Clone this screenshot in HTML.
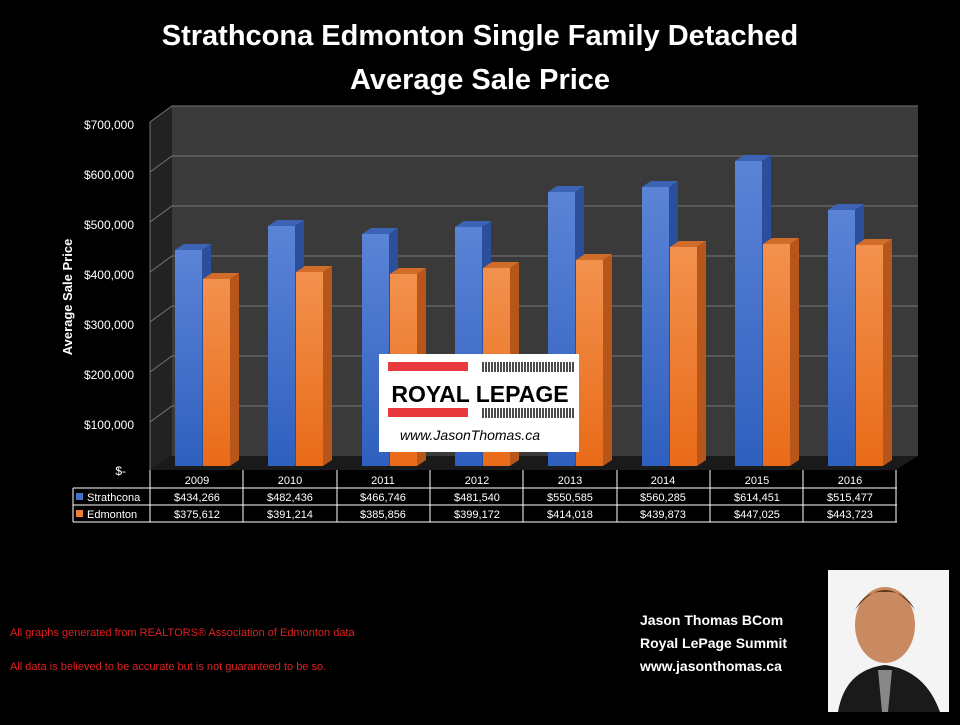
<!DOCTYPE html><html><head><style>body{margin:0;background:#000;width:960px;height:720px;overflow:hidden;font-family:"Liberation Sans",sans-serif}</style></head><body>
<svg width="960" height="720" xmlns="http://www.w3.org/2000/svg" font-family="Liberation Sans, sans-serif">
<defs>
<linearGradient id="b" x1="0" y1="0" x2="0" y2="1"><stop offset="0" stop-color="#5b84d6"/><stop offset="1" stop-color="#2f5fbf"/></linearGradient>
<linearGradient id="o" x1="0" y1="0" x2="0" y2="1"><stop offset="0" stop-color="#f2914e"/><stop offset="1" stop-color="#e96b18"/></linearGradient>
</defs>
<text x="480" y="45" fill="#fff" font-size="29" font-weight="bold" text-anchor="middle">Strathcona Edmonton Single Family Detached</text>
<text x="480" y="89" fill="#fff" font-size="29" font-weight="bold" text-anchor="middle">Average Sale Price</text>
<polygon points="150,122 172,106 172,456 150,470" fill="#222"/>
<rect x="172" y="106" width="746" height="350" fill="#3a3a3a"/>
<polygon points="150,470 172,456 918,456 896,470" fill="#1a1a1a"/>
<g stroke="#777" stroke-width="1" fill="none">
<polyline points="150,122 172,106 918,106"/><polyline points="150,172 172,156 918,156"/><polyline points="150,222 172,206 918,206"/><polyline points="150,272 172,256 918,256"/><polyline points="150,322 172,306 918,306"/><polyline points="150,372 172,356 918,356"/><polyline points="150,422 172,406 918,406"/>
<line x1="150" y1="122" x2="150" y2="470"/>
</g>
<g font-size="12" fill="#fff" text-anchor="end">
<text x="134" y="129">$700,000</text><text x="134" y="179">$600,000</text><text x="134" y="229">$500,000</text><text x="134" y="279">$400,000</text><text x="134" y="329">$300,000</text><text x="134" y="379">$200,000</text><text x="134" y="429">$100,000</text><text x="126" y="475">$-</text>
</g>
<text transform="translate(72,297) rotate(-90)" fill="#fff" font-size="13" font-weight="bold" text-anchor="middle">Average Sale Price</text>

<!-- bars -->
<g>
<!-- blue -->
<g transform="translate(175,0)"><polygon points="27,250 36,244 36,460 27,466" fill="#2c4f9c"/><polygon points="0,250 9,244 36,244 27,250" fill="#3d64b4"/><rect x="0" y="250" width="27" height="216" fill="url(#b)"/></g>
<g transform="translate(268,0)"><polygon points="27,226 36,220 36,460 27,466" fill="#2c4f9c"/><polygon points="0,226 9,220 36,220 27,226" fill="#3d64b4"/><rect x="0" y="226" width="27" height="240" fill="url(#b)"/></g>
<g transform="translate(362,0)"><polygon points="27,234 36,228 36,460 27,466" fill="#2c4f9c"/><polygon points="0,234 9,228 36,228 27,234" fill="#3d64b4"/><rect x="0" y="234" width="27" height="232" fill="url(#b)"/></g>
<g transform="translate(455,0)"><polygon points="27,227 36,221 36,460 27,466" fill="#2c4f9c"/><polygon points="0,227 9,221 36,221 27,227" fill="#3d64b4"/><rect x="0" y="227" width="27" height="239" fill="url(#b)"/></g>
<g transform="translate(548,0)"><polygon points="27,192 36,186 36,460 27,466" fill="#2c4f9c"/><polygon points="0,192 9,186 36,186 27,192" fill="#3d64b4"/><rect x="0" y="192" width="27" height="274" fill="url(#b)"/></g>
<g transform="translate(642,0)"><polygon points="27,187 36,181 36,460 27,466" fill="#2c4f9c"/><polygon points="0,187 9,181 36,181 27,187" fill="#3d64b4"/><rect x="0" y="187" width="27" height="279" fill="url(#b)"/></g>
<g transform="translate(735,0)"><polygon points="27,161 36,155 36,460 27,466" fill="#2c4f9c"/><polygon points="0,161 9,155 36,155 27,161" fill="#3d64b4"/><rect x="0" y="161" width="27" height="305" fill="url(#b)"/></g>
<g transform="translate(828,0)"><polygon points="27,210 36,204 36,460 27,466" fill="#2c4f9c"/><polygon points="0,210 9,204 36,204 27,210" fill="#3d64b4"/><rect x="0" y="210" width="27" height="256" fill="url(#b)"/></g>
<!-- orange -->
<g transform="translate(203,0)"><polygon points="27,279 36,273 36,460 27,466" fill="#b6561a"/><polygon points="0,279 9,273 36,273 27,279" fill="#d26c2a"/><rect x="0" y="279" width="27" height="187" fill="url(#o)"/></g>
<g transform="translate(296,0)"><polygon points="27,272 36,266 36,460 27,466" fill="#b6561a"/><polygon points="0,272 9,266 36,266 27,272" fill="#d26c2a"/><rect x="0" y="272" width="27" height="194" fill="url(#o)"/></g>
<g transform="translate(390,0)"><polygon points="27,274 36,268 36,460 27,466" fill="#b6561a"/><polygon points="0,274 9,268 36,268 27,274" fill="#d26c2a"/><rect x="0" y="274" width="27" height="192" fill="url(#o)"/></g>
<g transform="translate(483,0)"><polygon points="27,268 36,262 36,460 27,466" fill="#b6561a"/><polygon points="0,268 9,262 36,262 27,268" fill="#d26c2a"/><rect x="0" y="268" width="27" height="198" fill="url(#o)"/></g>
<g transform="translate(576,0)"><polygon points="27,260 36,254 36,460 27,466" fill="#b6561a"/><polygon points="0,260 9,254 36,254 27,260" fill="#d26c2a"/><rect x="0" y="260" width="27" height="206" fill="url(#o)"/></g>
<g transform="translate(670,0)"><polygon points="27,247 36,241 36,460 27,466" fill="#b6561a"/><polygon points="0,247 9,241 36,241 27,247" fill="#d26c2a"/><rect x="0" y="247" width="27" height="219" fill="url(#o)"/></g>
<g transform="translate(763,0)"><polygon points="27,244 36,238 36,460 27,466" fill="#b6561a"/><polygon points="0,244 9,238 36,238 27,244" fill="#d26c2a"/><rect x="0" y="244" width="27" height="222" fill="url(#o)"/></g>
<g transform="translate(856,0)"><polygon points="27,245 36,239 36,460 27,466" fill="#b6561a"/><polygon points="0,245 9,239 36,239 27,245" fill="#d26c2a"/><rect x="0" y="245" width="27" height="221" fill="url(#o)"/></g>
</g>

<rect x="379" y="354" width="200" height="98" fill="#fff"/>
<rect x="388" y="362" width="80" height="9" fill="#e8393f"/>
<rect x="388" y="408" width="80" height="9" fill="#e8393f"/>
<rect x="482" y="362" width="92" height="10" fill="none" stroke="#111" stroke-width="10" stroke-dasharray="1.5 1.6" transform="translate(0,0)" style="stroke:none"/>
<g stroke="#111" stroke-width="1.5">
<path d="M483 362v10M486 362v10M489 362v10M492 362v10M495 362v10M498 362v10M501 362v10M504 362v10M507 362v10M510 362v10M513 362v10M516 362v10M519 362v10M522 362v10M525 362v10M528 362v10M531 362v10M534 362v10M537 362v10M540 362v10M543 362v10M546 362v10M549 362v10M552 362v10M555 362v10M558 362v10M561 362v10M564 362v10M567 362v10M570 362v10M573 362v10"/>
<path d="M483 408v10M486 408v10M489 408v10M492 408v10M495 408v10M498 408v10M501 408v10M504 408v10M507 408v10M510 408v10M513 408v10M516 408v10M519 408v10M522 408v10M525 408v10M528 408v10M531 408v10M534 408v10M537 408v10M540 408v10M543 408v10M546 408v10M549 408v10M552 408v10M555 408v10M558 408v10M561 408v10M564 408v10M567 408v10M570 408v10M573 408v10"/>
</g>
<text x="480" y="402" font-size="23" font-weight="bold" text-anchor="middle" fill="#000">ROYAL LEPAGE</text>
<text x="470" y="440" font-size="14" font-style="italic" text-anchor="middle" fill="#000">www.JasonThomas.ca</text>

<g stroke="#fff" stroke-width="1" fill="none">
<line x1="150" y1="470" x2="150" y2="522"/><line x1="73" y1="488" x2="897" y2="488"/><line x1="73" y1="505" x2="897" y2="505"/><line x1="73" y1="522" x2="897" y2="522"/><line x1="73" y1="488" x2="73" y2="522"/>
<line x1="243" y1="470" x2="243" y2="522"/><line x1="337" y1="470" x2="337" y2="522"/><line x1="430" y1="470" x2="430" y2="522"/><line x1="523" y1="470" x2="523" y2="522"/><line x1="617" y1="470" x2="617" y2="522"/><line x1="710" y1="470" x2="710" y2="522"/><line x1="803" y1="470" x2="803" y2="522"/><line x1="896" y1="470" x2="896" y2="522"/>
</g>
<g font-size="11" fill="#fff" text-anchor="middle">
<text x="197" y="484">2009</text><text x="290" y="484">2010</text><text x="383" y="484">2011</text><text x="477" y="484">2012</text><text x="570" y="484">2013</text><text x="663" y="484">2014</text><text x="757" y="484">2015</text><text x="850" y="484">2016</text>
<text x="197" y="501">$434,266</text><text x="290" y="501">$482,436</text><text x="383" y="501">$466,746</text><text x="477" y="501">$481,540</text><text x="570" y="501">$550,585</text><text x="663" y="501">$560,285</text><text x="757" y="501">$614,451</text><text x="850" y="501">$515,477</text>
<text x="197" y="518">$375,612</text><text x="290" y="518">$391,214</text><text x="383" y="518">$385,856</text><text x="477" y="518">$399,172</text><text x="570" y="518">$414,018</text><text x="663" y="518">$439,873</text><text x="757" y="518">$447,025</text><text x="850" y="518">$443,723</text>
<text x="87" y="501" text-anchor="start">Strathcona</text><text x="87" y="518" text-anchor="start">Edmonton</text>
</g>
<rect x="76" y="493" width="7" height="7" fill="#4472c4"/>
<rect x="76" y="510" width="7" height="7" fill="#ed7d31"/>

<text x="10" y="636" fill="#e02020" font-size="11">All graphs generated from REALTORS® Association of Edmonton data</text>
<text x="10" y="670" fill="#e02020" font-size="11">All data is believed to be accurate but is not guaranteed to be so.</text>
<g fill="#fff" font-size="14" font-weight="bold"><text x="640" y="625">Jason Thomas BCom</text><text x="640" y="648">Royal LePage Summit</text><text x="640" y="671">www.jasonthomas.ca</text></g>
<rect x="828" y="570" width="121" height="142" fill="#f4f4f4"/>
<ellipse cx="885" cy="625" rx="30" ry="38" fill="#c98a62"/>
<path d="M855 610 Q885 570 915 610 Q905 590 885 592 Q865 590 855 610Z" fill="#5a3418"/>
<path d="M838 712 Q845 670 885 665 Q925 670 940 712Z" fill="#1a1a1a"/>
<polygon points="878,670 892,670 888,712 882,712" fill="#888"/>
</svg>
</body></html>
